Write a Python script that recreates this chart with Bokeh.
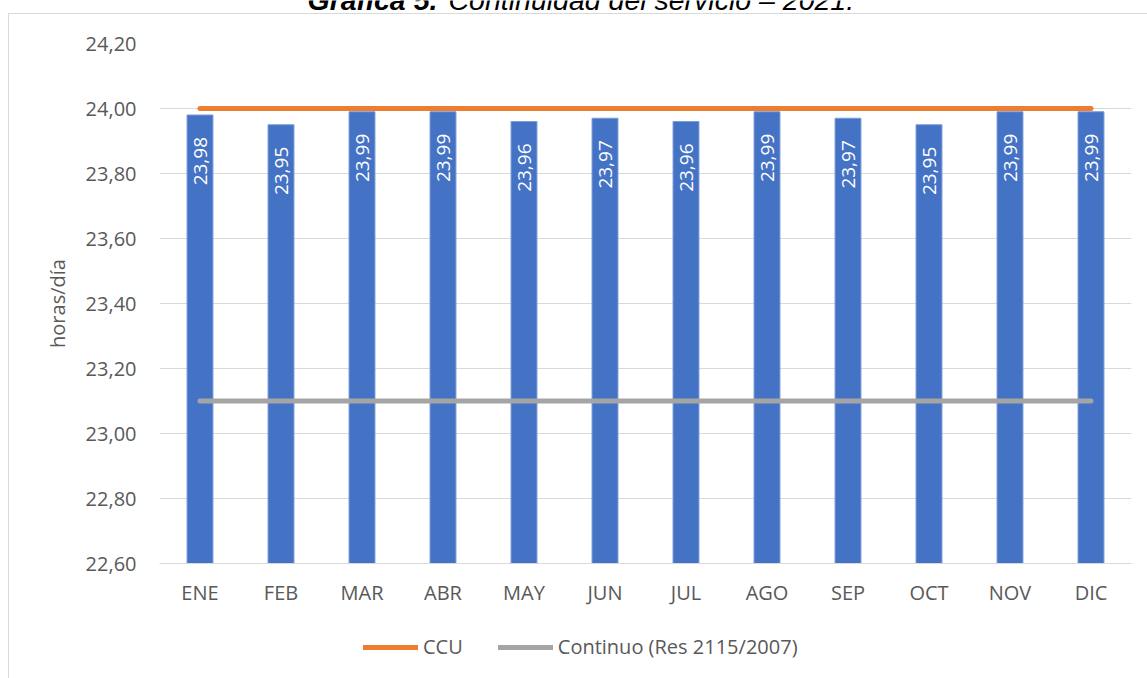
from bokeh.plotting import figure
from bokeh.layouts import column
from bokeh.models import (Range1d, FixedTicker, CustomJSTickFormatter, Legend, LegendItem,
                          Label, ColumnDataSource)
from bokeh.core.properties import value
from bokeh.embed import file_html
from bokeh.resources import INLINE

months = ["ENE", "FEB", "MAR", "ABR", "MAY", "JUN", "JUL", "AGO", "SEP", "OCT", "NOV", "DIC"]
continuidad = [23.98, 23.95, 23.99, 23.99, 23.96, 23.97, 23.96, 23.99, 23.97, 23.95, 23.99, 23.99]
continuidad_labels = ["23,98", "23,95", "23,99", "23,99", "23,96", "23,97", "23,96", "23,99", "23,97", "23,95", "23,99", "23,99"]
ccu = [24.00, 24.00, 24.00, 24.00, 24.00, 24.00, 24.00, 24.00, 24.00, 24.00, 24.00, 24.00]
continuo = [23.10, 23.10, 23.10, 23.10, 23.10, 23.10, 23.10, 23.10, 23.10, 23.10, 23.10, 23.10]
y_ticks = [22.6, 22.8, 23.0, 23.2, 23.4, 23.6, 23.8, 24.0, 24.2]
title_bold = "Gráfica 5."
title_rest = "Continuidad del servicio – 2021."
legend_labels = ["CCU", "Continuo (Res 2115/2007)"]

FONT = "Open Sans"
TXT = "#595959"
FS = "20px"
ORANGE = "#ED7D31"
GRAY = "#A5A5A5"
W = 1147
H_TITLE, H_MAIN, H_LEG = 13, 607, 58

def frame_lines(top_line):
    imgs = "linear-gradient(#D9D9D9, #D9D9D9)"
    if top_line:
        return {"background-color": "white",
                "background-image": imgs + ", " + imgs,
                "background-size": "calc(100% - 8px) 1px, 1px 100%",
                "background-position": "8px 0px, 8px 0px",
                "background-repeat": "no-repeat"}
    return {"background-color": "white", "background-image": imgs,
            "background-size": "1px 100%", "background-position": "8px 0px",
            "background-repeat": "no-repeat"}

# ---- title strip (cut off at top, as in the reference)
pt = figure(width=W, height=H_TITLE, x_range=Range1d(0, 1), y_range=Range1d(0, 1),
            x_axis_type=None, y_axis_type=None, output_backend="svg", toolbar_location=None,
            min_border=0, outline_line_color=None)
pt.grid.visible = False
pt.add_layout(Label(x=307, y=-1, x_units="canvas", y_units="canvas", text=title_bold,
                    text_font="Liberation Sans", text_font_style="bold italic",
                    text_font_size="28.5px", text_color="black", text_baseline="alphabetic"))
pt.add_layout(Label(x=448, y=-1, x_units="canvas", y_units="canvas", text=title_rest,
                    text_font="Liberation Sans", text_font_style="italic",
                    text_font_size="28.5px", text_color="black", text_baseline="alphabetic"))

# ---- main chart
src = ColumnDataSource(dict(m=months, v=continuidad, lab=continuidad_labels))
p = figure(x_range=months, y_range=Range1d(22.6, 24.2), width=W, height=H_MAIN,
           output_backend="svg", toolbar_location=None,
           min_border_left=159, min_border_right=16, min_border_top=30, min_border_bottom=57)
p.outline_line_color = None
p.border_fill_color = None
p.background_fill_color = "white"
p.styles = frame_lines(True)

p.vbar(x="m", top="v", bottom=22.6, width=0.32, source=src,
       fill_color="#4472C4", line_color="#7A9BD6", line_width=1)
p.text(x="m", y="v", text="lab", source=src, angle=1.5707963, text_align="right",
       text_baseline="middle", y_offset=22, text_color="white",
       text_font=value(FONT), text_font_size="19px")
p.line(months, ccu, line_color=ORANGE, line_width=5, line_cap="round")
p.line(months, continuo, line_color=GRAY, line_width=5, line_cap="round")

p.yaxis.ticker = FixedTicker(ticks=y_ticks)
p.yaxis.formatter = CustomJSTickFormatter(code="return tick.toFixed(2).replace('.', ',');")
p.yaxis.axis_line_color = None
p.yaxis.major_tick_line_color = None
p.yaxis.minor_tick_line_color = None
p.yaxis.major_label_standoff = 17
p.yaxis.axis_label = "horas/día"
p.yaxis.axis_label_text_font_style = "normal"
p.yaxis.axis_label_standoff = 12
p.xaxis.axis_line_color = "#D9D9D9"
p.xaxis.major_tick_line_color = None
p.xaxis.minor_tick_line_color = None
p.xaxis.major_label_standoff = 9
for ax in (p.xaxis, p.yaxis):
    ax.major_label_text_font = FONT
    ax.major_label_text_font_size = FS
    ax.major_label_text_color = TXT
    ax.axis_label_text_font = FONT
    ax.axis_label_text_font_size = FS
    ax.axis_label_text_color = TXT
p.xgrid.grid_line_color = None
p.ygrid.grid_line_color = "#D9D9D9"
p.ygrid.grid_line_width = 1

# ---- legend strip
pl = figure(width=W, height=H_LEG, x_range=Range1d(0, 1), y_range=Range1d(0, 1),
            x_axis_type=None, y_axis_type=None, output_backend="svg", toolbar_location=None,
            min_border=0, outline_line_color=None)
pl.grid.visible = False
pl.border_fill_color = None
pl.background_fill_color = None
pl.styles = frame_lines(False)
l1 = pl.line([5, 6], [5, 5], line_color=ORANGE, line_width=5, line_cap="round")
l2 = pl.line([5, 6], [6, 6], line_color=GRAY, line_width=5, line_cap="round")
legend = Legend(items=[LegendItem(label=legend_labels[0], renderers=[l1]),
                       LegendItem(label=legend_labels[1], renderers=[l2])],
                orientation="horizontal", location=(204, 18),
                glyph_width=55, glyph_height=20, label_standoff=5, spacing=35,
                padding=0, margin=0, border_line_color=None, background_fill_alpha=0,
                label_text_font=FONT, label_text_font_size=FS, label_text_color=TXT)
pl.add_layout(legend)

layout = column(pt, p, pl, spacing=0)
open("out.html", "w").write(file_html(layout, INLINE))
